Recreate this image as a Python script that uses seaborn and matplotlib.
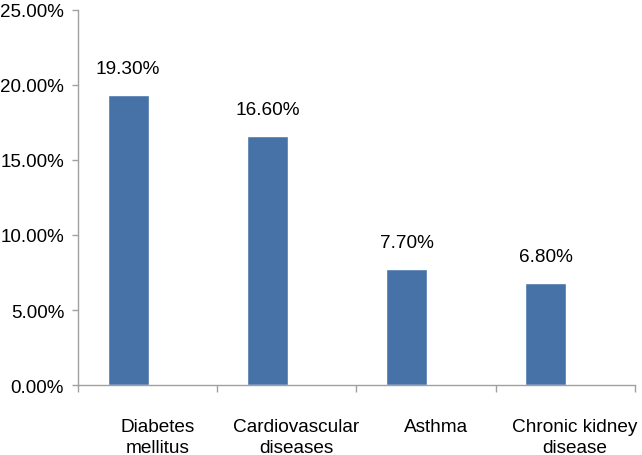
import matplotlib
matplotlib.use("Agg")
import matplotlib.pyplot as plt
import seaborn as sns
import pandas as pd
from matplotlib.ticker import FuncFormatter, FixedLocator

categories = ["Diabetes\nmellitus", "Cardiovascular\ndiseases", "Asthma", "Chronic kidney\ndisease"]
values = [19.30, 16.60, 7.70, 6.80]
value_labels = ["19.30%", "16.60%", "7.70%", "6.80%"]
y_ticks = [0, 5, 10, 15, 20, 25]

sns.set_theme(style="white")
plt.rcParams['font.family'] = ['Liberation Sans', 'DejaVu Sans']

df = pd.DataFrame({"cat": categories, "val": values})

fig = plt.figure(figsize=(6.42, 4.56), dpi=100)
ax = fig.add_axes([0.1215, 0.1535, 0.989 - 0.1215, 0.9759 - 0.1535])

sns.barplot(data=df, x="cat", y="val", color="#4672A8", saturation=1, width=0.295, ax=ax)

shift = 0.14
ax.set_xlim(-0.5 + shift, 3.5 + shift)
ax.set_ylim(0, 25)

for i, (v, lab) in enumerate(zip(values, value_labels)):
    ax.annotate(lab, (i, v), xytext=(0, 13), textcoords="offset points",
                ha="center", va="bottom", fontsize=13.7, color="#000000")

ax.set_yticks(y_ticks)
ax.yaxis.set_major_formatter(FuncFormatter(lambda y, p: f"{y:.2f}%"))
ax.tick_params(axis="y", direction="out", length=4, width=1, color="#A0A0A0",
               pad=6, labelsize=13.5, labelcolor="#000000", left=True)

ax.set_xticks([i + 0.21 for i in range(len(categories))])
ax.set_xticklabels(categories, fontsize=13.7, color="#000000", linespacing=1.3)
ax.tick_params(axis="x", which="major", length=0, pad=24)
ax.xaxis.set_minor_locator(FixedLocator([-0.5 + shift + k for k in range(5)]))
ax.tick_params(axis="x", which="minor", direction="out", length=5, width=1,
               color="#A0A0A0", bottom=True)

for s in ["top", "right"]:
    ax.spines[s].set_visible(False)
for s in ["left", "bottom"]:
    ax.spines[s].set_color("#A0A0A0")
    ax.spines[s].set_linewidth(1)

ax.set_xlabel("")
ax.set_ylabel("")
ax.grid(False)

fig.savefig("out.png", dpi=100)
